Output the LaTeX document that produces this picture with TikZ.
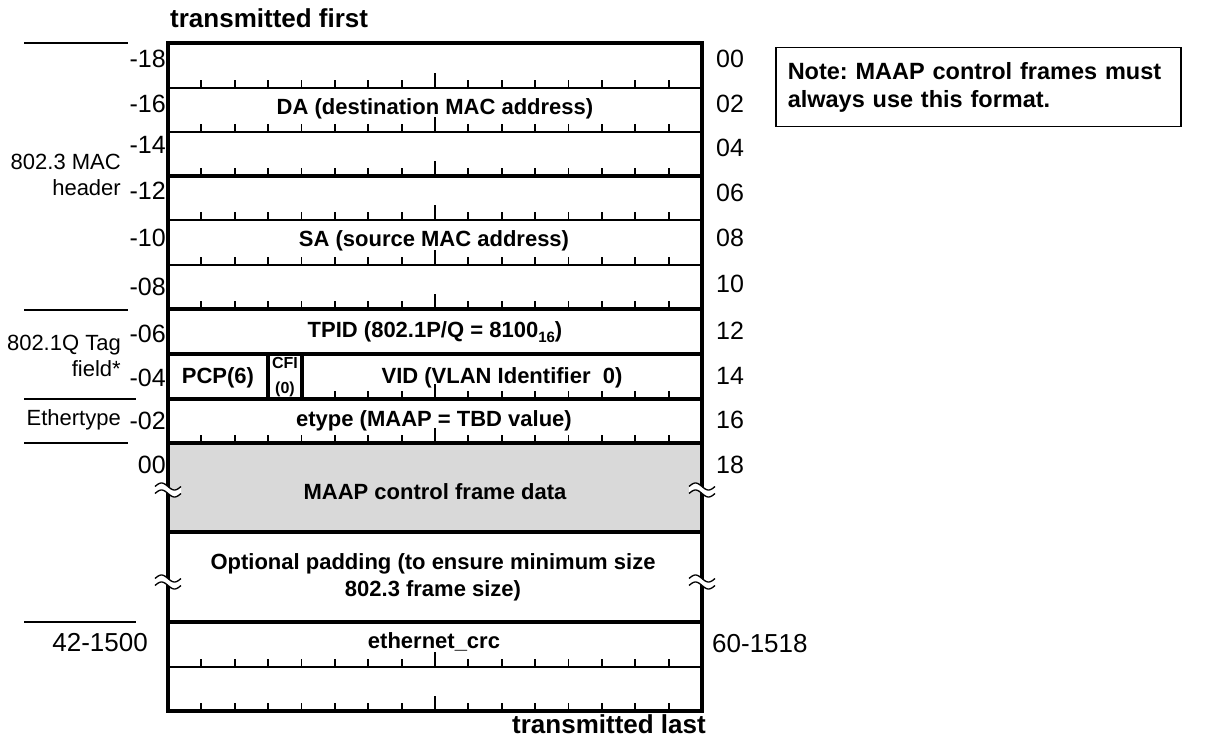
\documentclass[tikz,border=0pt]{standalone}
\usepackage{fontspec}
\setmainfont{Liberation Sans}
\usetikzlibrary{positioning}
\definecolor{FrameGray}{HTML}{D9D9D9}
\frenchspacing
\newcommand{\fsz}[2][]{\fontsize{#2}{#2}\selectfont}
\newcommand{\wavebreak}[2]{%
  \begin{scope}[shift={(#1,#2)}]
    \fill[white] plot[domain=-13:13,samples=27,smooth] (\x,{3.5*sin(\x*360/26)-3.5})
      -- plot[domain=13:-13,samples=27,smooth] (\x,{3.5*sin(\x*360/26)+3.5}) -- cycle;
    \draw[line width=1.3pt] plot[domain=-13:13,samples=27,smooth] (\x,{3.5*sin(\x*360/26)-3.5});
    \draw[line width=1.3pt] plot[domain=-13:13,samples=27,smooth] (\x,{3.5*sin(\x*360/26)+3.5});
  \end{scope}}

\begin{document}
\begin{tikzpicture}[x=1pt,y=-1pt,
  field/.style={font=\fsz{22}\bfseries,inner sep=0pt},
  offs/.style={font=\fsz{25},inner sep=0pt},
  side/.style={font=\fontsize{22}{26}\selectfont,inner sep=0pt,align=right,anchor=east},
  rowthick/.style={line width=4.5pt},
  rowthin/.style={line width=2.5pt},
  tickline/.style={line width=1.8pt},
  rule/.style={line width=2pt}
]
\useasboundingbox (0,0) rectangle (1216,738);
% frame data area
\fill[FrameGray] (168,443) rectangle (702,532);
% bit ticks
\foreach \r in {88,132,176,220,265,309,443,667,711}
  \foreach \k in {1,...,15}{
    \pgfmathsetmacro\tickh{\k==8 ? 15 : 8}
    \draw[tickline] ({168+\k*33.375},\r) -- ++(0,-\tickh);
  }
\foreach \k in {5,...,15}{
  \pgfmathsetmacro\tickh{\k==8 ? 15 : 8}
  \draw[tickline] ({168+\k*33.375},399) -- ++(0,-\tickh);
}
% row lines
\foreach \r in {88,132,220,265,667} \draw[rowthin] (168,\r) -- (702,\r);
\foreach \r in {176,309,354,399,443,532,622} \draw[rowthick] (168,\r) -- (702,\r);
\draw[rowthick] (168,43) rectangle (702,711);
\draw[rowthick] (268,354) -- (268,399);
\draw[rowthick] (302,354) -- (302,399);
% field names
\node[field] (da) at (435,109) {DA (destination MAC address)};
\node[field] (sa) at (434,241) {SA (source MAC address)};
\node[field] (tpid) at (435,332) {TPID (802.1P/Q = 8100\raisebox{-0.4ex}{\fsz{15}16})};
\node[field] (pcp) at (218,378) {PCP(6)};
\node[field,font=\fontsize{16}{25}\selectfont\bfseries,align=center] (cfi) at (285,377) {CFI\\(0)};
\node[field] (vid) at (502,378) {VID (VLAN Identifier\ \ 0)};
\node[field] (etype) at (434,421) {etype (MAAP = TBD value)};
\node[field] (data) at (435,492) {MAAP control frame data};
\node[field,font=\fontsize{22}{27}\selectfont\bfseries,align=center] (pad) at (433,577) {Optional padding (to ensure minimum size\\802.3 frame size)};
\node[field] (crc) at (434,642) {ethernet\_crc};
\node[font=\fsz{26}\bfseries,inner sep=0pt,anchor=west] (first) at (170,18) {transmitted first};
\node[font=\fsz{26}\bfseries,inner sep=0pt,anchor=base east] (last) at (706,733) {transmitted last};
% octet offsets
\foreach \t/\y [count=\i] in {-18/59,-16/104,-14/145,-12/191,-10/238,-08/287,-06/334,-04/378,-02/421,00/465}
  \node[offs,anchor=east] (lo\i) at (166,\y) {\t};
\foreach \t/\y [count=\i] in {00/59,02/104,04/148,06/193,08/238,10/284,12/331,14/376,16/420,18/465}
  \node[offs,anchor=west] (ro\i) at (716,\y) {\t};
\node[offs,font=\fsz{26},anchor=east] (lmin) at (148,643) {42-1500};
\node[offs,font=\fsz{26},anchor=west] (rmin) at (712,644) {60-1518};
% header groups
\draw[rule] (24,43) -- (128,43);
\draw[rule] (24,310) -- (128,310);
\draw[rule] (24,399) -- (136,399);
\draw[rule] (24,443) -- (128,443);
\draw[rule] (24,622) -- (136,622);
\node[side] (mac) at (121,175) {802.3 MAC\\header};
\node[side] (tag) at (121,356) {802.1Q Tag\\field*};
\node[side] (ety) at (121,420) {Ethertype};
% breaks
\wavebreak{168}{490}
\wavebreak{702}{490}
\wavebreak{168}{582}
\wavebreak{702}{582}
% note
\node[draw,line width=1.5pt,anchor=north west,text width=381pt,inner xsep=12pt,inner ysep=0pt,
  minimum height=79pt,align=left,font=\fontsize{23.5}{28}\selectfont\bfseries] (note) at (775,47)
  {Note: MAAP control frames must\\always use this format.};
\end{tikzpicture}
\end{document}
